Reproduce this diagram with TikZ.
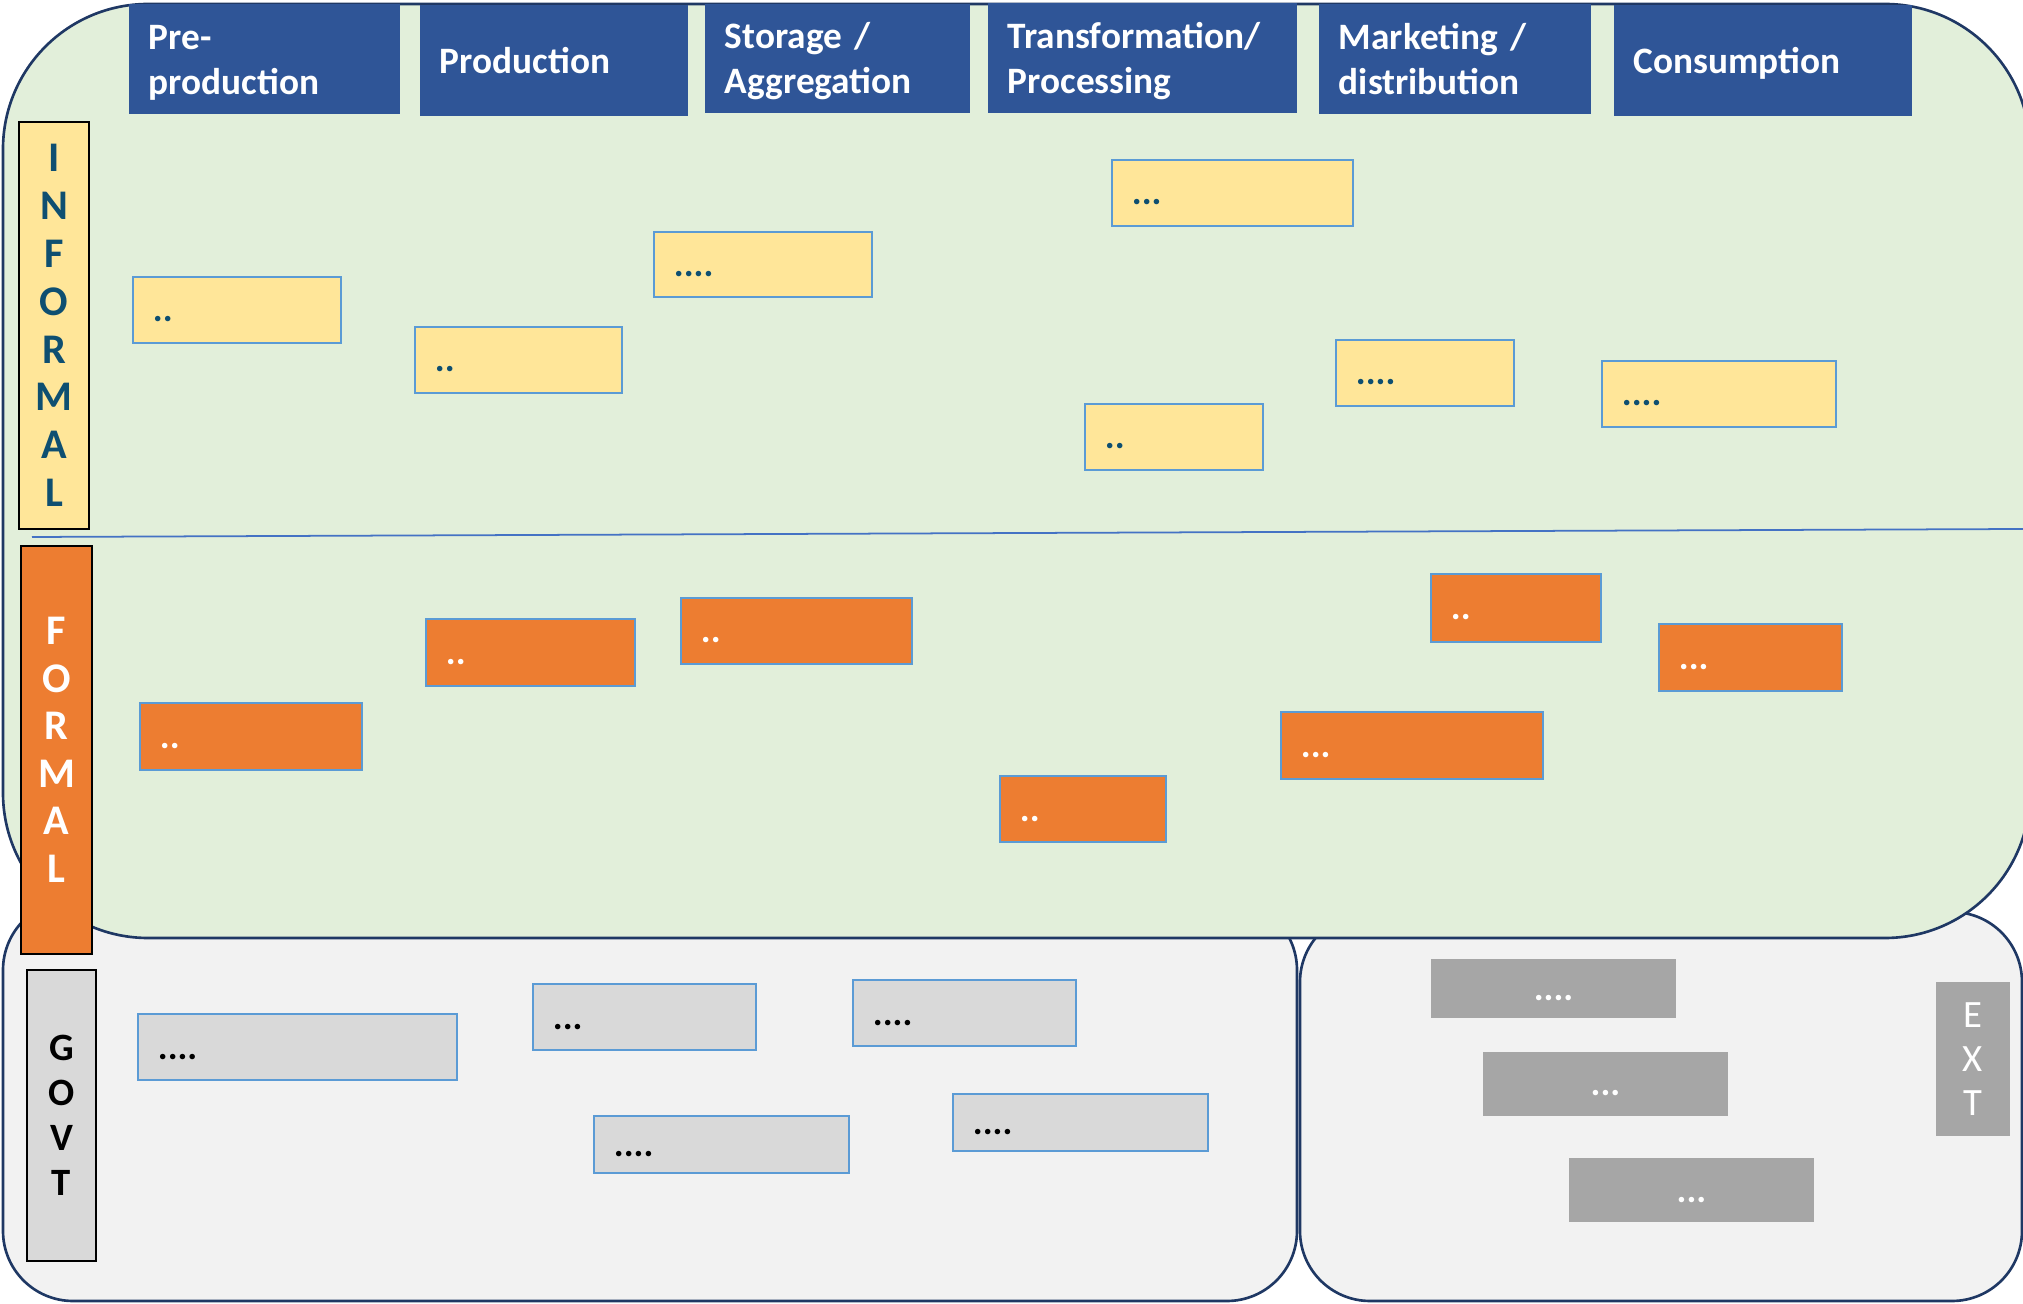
\documentclass[tikz,border=0pt]{standalone}
\usepackage{fontspec}
\setmainfont{Carlito}
\usepackage{xcolor}
\usepackage{tikz}

\definecolor{panelgreen}{HTML}{E2EFDA}
\definecolor{panelgray}{HTML}{F2F2F2}
\definecolor{paneledge}{HTML}{1F3864}
\definecolor{headblue}{HTML}{2F5597}
\definecolor{infyellow}{HTML}{FFE699}
\definecolor{frmorange}{HTML}{ED7D31}
\definecolor{govgray}{HTML}{D9D9D9}
\definecolor{extgray}{HTML}{A6A6A6}
\definecolor{edgeblue}{HTML}{5B9BD5}
\definecolor{lineblue}{HTML}{4472C4}
\definecolor{tealtext}{RGB}{14,79,113}

\newcommand{\hdstrut}{\rule[-0.25em]{0pt}{1.18em}}

\begin{document}
\begin{tikzpicture}[
    x=0.01cm, y=-0.01cm,
    region/.style={draw=paneledge, line width=0.75pt},
    head/.style={rectangle, fill=headblue, text=white, inner xsep=0.2cm, inner ysep=0pt, text width=#1, align=left, minimum height=1.1cm, font=\bfseries\fontsize{10.6}{12.8}\selectfont},
    sidelabel/.style={rectangle, draw=black, line width=0.7pt, inner sep=0pt, align=center, font=\bfseries\fontsize{12}{13.6}\selectfont},
    item/.style={rectangle, draw=edgeblue, line width=0.6pt, inner xsep=0.2cm, minimum height=0.66cm, text height=0.28cm, text depth=0.04cm, align=left, font=\bfseries\fontsize{10.5}{12}\selectfont},
    infitem/.style={item, fill=infyellow, text=tealtext, text width=#1},
    frmitem/.style={item, fill=frmorange, text=white, text width=#1},
    govitem/.style={item, fill=govgray, text=black, text width=#1},
    extitem/.style={rectangle, fill=extgray, text=white, minimum width=2.45cm, minimum height=0.64cm, text height=0.28cm, text depth=0.04cm, font=\bfseries\fontsize{10.5}{12}\selectfont}
]
    \useasboundingbox (0,0) rectangle (2023,1304);
    \clip (0,0) rectangle (2023,1304);

    % Panels (government, external, value chain)
    \draw[region, fill=panelgray, rounded corners=0.7cm] (3,900) rectangle (1297,1301);
    \draw[region, fill=panelgray, rounded corners=0.7cm] (1300,912) rectangle (2022,1301);
    \draw[region, fill=panelgreen, rounded corners=1.45cm] (3,4) rectangle (2030,938);

    % Informal / formal divider
    \draw[lineblue, line width=0.5pt] (32,537) -- (2023,529);

    % Stages of the chain
    \node[head=2.31cm] (preprod) at (264.5,59) {\hdstrut Pre-\\\hdstrut production};
    \node[head=2.28cm, minimum height=1.11cm] (prod) at (554,60.5) {\hdstrut Production};
    \node[head=2.25cm, minimum height=1.09cm] (storage) at (837.5,58.5) {\hdstrut Storage /\\\hdstrut Aggregation};
    \node[head=2.69cm] (transf) at (1142.5,58) {\hdstrut Transformation/\\\hdstrut Processing};
    \node[head=2.32cm] (market) at (1455,59) {\hdstrut Marketing /\\\hdstrut distribution};
    \node[head=2.58cm, minimum height=1.11cm] (consume) at (1763,60.5) {\hdstrut Consumption};

    % Side labels
    \node[sidelabel, fill=infyellow, text=tealtext, minimum width=0.7cm, minimum height=4.07cm] (informal) at (54,325.5) {I\\N\\F\\O\\R\\M\\A\\L};
    \node[sidelabel, fill=frmorange, text=white, minimum width=0.71cm, minimum height=4.08cm, font=\bfseries\fontsize{12}{13.5}\selectfont] (formal) at (56.5,750) {F\\O\\R\\M\\A\\L};
    \node[sidelabel, fill=govgray, text=black, minimum width=0.69cm, minimum height=2.91cm, font=\bfseries\fontsize{11}{12.8}\selectfont] (govt) at (61.5,1115.5) {G\\O\\V\\T};
    \node[sidelabel, draw=none, fill=extgray, text=white, minimum width=0.74cm, minimum height=1.54cm, font=\fontsize{11}{12.6}\selectfont] (extlabel) at (1973,1059) {E\\X\\T};

    % Informal actors
    \node[infitem=1.68cm] (inf1) at (237,310) {..};
    \node[infitem=1.67cm] (inf2) at (518.5,360) {..};
    \node[infitem=1.78cm, minimum height=0.65cm] (inf3) at (763,264.5) {....};
    \node[infitem=2.01cm] (inf4) at (1232.5,193) {...};
    \node[infitem=1.38cm] (inf5) at (1174,437) {..};
    \node[infitem=1.38cm] (inf6) at (1425,373) {....};
    \node[infitem=1.94cm] (inf7) at (1719,394) {....};

    % Formal actors
    \node[frmitem=1.82cm, minimum height=0.67cm] (frm1) at (251,736.5) {..};
    \node[frmitem=1.69cm, minimum height=0.67cm] (frm2) at (530.5,652.5) {..};
    \node[frmitem=1.91cm] (frm3) at (796.5,631) {..};
    \node[frmitem=1.26cm] (frm4) at (1083,809) {..};
    \node[frmitem=2.22cm, minimum height=0.67cm] (frm5) at (1412,745.5) {...};
    \node[frmitem=1.30cm, minimum height=0.68cm] (frm6) at (1516,608) {..};
    \node[frmitem=1.43cm, minimum height=0.67cm] (frm7) at (1750.5,657.5) {...};

    % Government
    \node[govitem=2.79cm] (gov1) at (297.5,1047) {....};
    \node[govitem=1.83cm] (gov2) at (644.5,1017) {...};
    \node[govitem=1.83cm] (gov3) at (964.5,1013) {....};
    \node[govitem=2.15cm, minimum height=0.57cm] (gov4) at (721.5,1144.5) {....};
    \node[govitem=2.15cm, minimum height=0.57cm] (gov5) at (1080.5,1122.5) {....};

    % External
    \node[extitem, minimum height=0.59cm] (ext1) at (1553.5,988.5) {....};
    \node[extitem] (ext2) at (1605.5,1084) {...};
    \node[extitem] (ext3) at (1691.5,1190) {...};
\end{tikzpicture}
\end{document}
